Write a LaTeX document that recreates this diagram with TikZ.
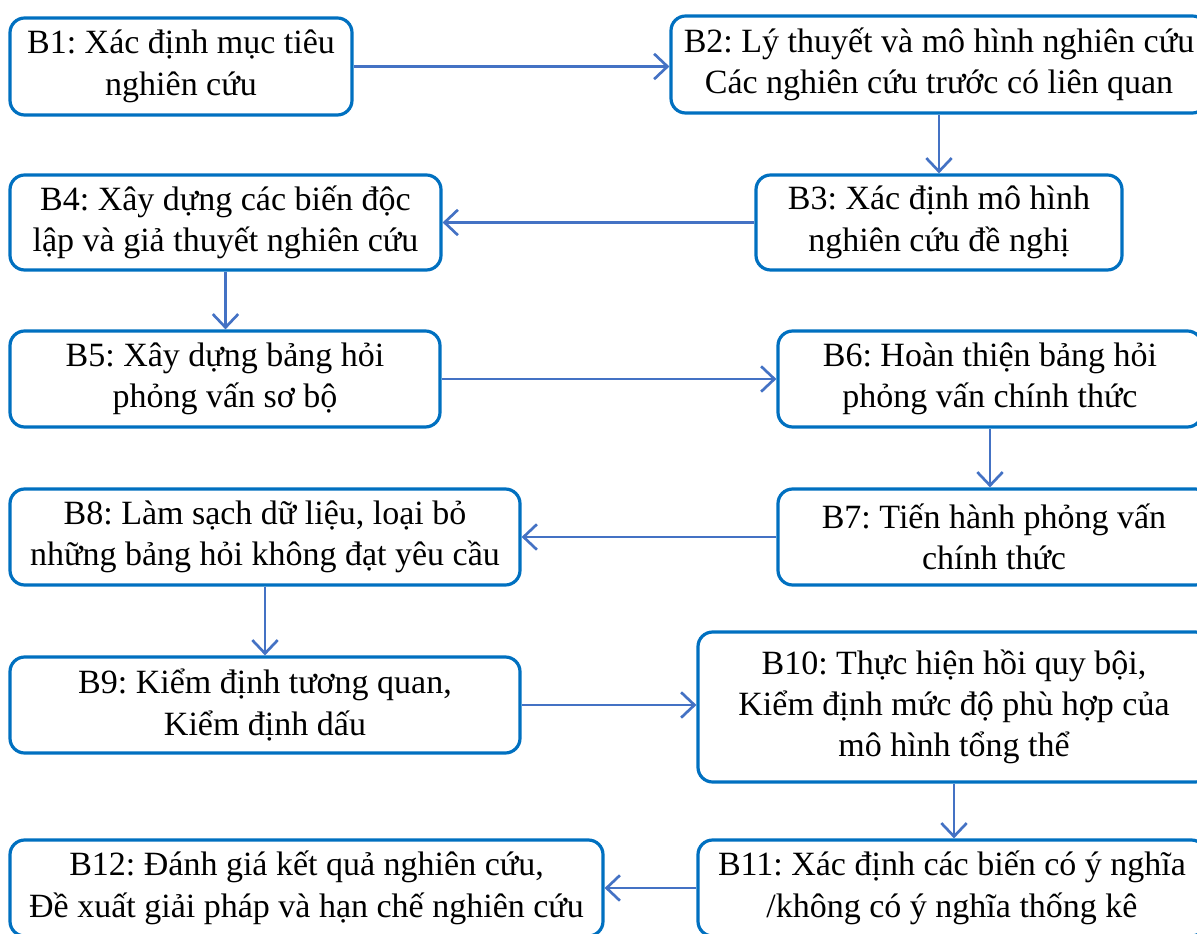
\documentclass[tikz,border=0pt]{standalone}
\usepackage{fontspec}
\setmainfont{Liberation Serif}
\usetikzlibrary{arrows.meta}
\definecolor{boxblue}{RGB}{0,112,192}
\definecolor{arrblue}{RGB}{68,114,196}
\tikzset{
  stepbox/.style={draw=boxblue, line width=2.4pt, rounded corners=11pt, align=center,
    inner sep=0pt, fill=white, font=\fontsize{25.5}{31}\selectfont\frenchspacing},
  flow/.style={draw=arrblue, line width=2.2pt, -{Straight Barb[length=10pt,width=19pt,line width=2pt]}}
}
\begin{document}
\begin{tikzpicture}[x=0.75pt,y=-0.75pt]
\useasboundingbox (0,0) rectangle (1197,934);
\node[stepbox, minimum width=256.5pt, minimum height=72.75pt] (B1) at (181,66.5) {B1: Xác định mục tiêu\\nghiên cứu};
\node[stepbox, minimum width=402pt, minimum height=72.75pt] (B2) at (939,64.5) {B2: Lý thuyết và mô hình nghiên cứu\\Các nghiên cứu trước có liên quan};
\node[stepbox, minimum width=274.5pt, minimum height=71.25pt] (B3) at (939,222.5) {B3: Xác định mô hình\\nghiên cứu đề nghị};
\node[stepbox, minimum width=323.25pt, minimum height=71.25pt] (B4) at (225.5,222.5) {B4: Xây dựng các biến độc\\lập và giả thuyết nghiên cứu};
\node[stepbox, minimum width=322.5pt, minimum height=72pt] (B5) at (225,379) {B5: Xây dựng bảng hỏi\\phỏng vấn sơ bộ};
\node[stepbox, minimum width=318pt, minimum height=72pt] (B6) at (990,379) {B6: Hoàn thiện bảng hỏi\\phỏng vấn chính thức};
\node[stepbox, minimum width=324pt, minimum height=72pt] (B7) at (994,537) {B7: Tiến hành phỏng vấn\\chính thức};
\node[stepbox, minimum width=382.5pt, minimum height=72pt] (B8) at (265,537) {B8: Làm sạch dữ liệu, loại bỏ\\những bảng hỏi không đạt yêu cầu};
\node[stepbox, minimum width=382.5pt, minimum height=72pt] (B9) at (265,705) {B9: Kiểm định tương quan,\\Kiểm định dấu};
\node[stepbox, minimum width=384pt, minimum height=112.5pt] (B10) at (954,707) {B10: Thực hiện hồi quy bội,\\Kiểm định mức độ phù hợp của\\mô hình tổng thể};
\node[stepbox, minimum width=381pt, minimum height=72pt] (B11) at (952,888) {B11: Xác định các biến có ý nghĩa\\/không có ý nghĩa thống kê};
\node[stepbox, minimum width=444.75pt, minimum height=72pt] (B12) at (306.5,888) {B12: Đánh giá kết quả nghiên cứu,\\Đề xuất giải pháp và hạn chế nghiên cứu};
\draw[flow] (B1.east) -- (B1.east -| B2.west);
\draw[flow] (B2.south -| B3.north) -- (B3.north);
\draw[flow] (B3.west) -- (B3.west -| B4.east);
\draw[flow] (B4.south) -- (B4.south |- B5.north);
\draw[flow] (B5.east) -- (B5.east -| B6.west);
\draw[flow] (B6.south) -- (B6.south |- B7.north);
\draw[flow] (B7.west) -- (B7.west -| B8.east);
\draw[flow] (B8.south) -- (B8.south |- B9.north);
\draw[flow] (B9.east) -- (B9.east -| B10.west);
\draw[flow] (B10.south) -- (B10.south |- B11.north);
\draw[flow] (B11.west) -- (B11.west -| B12.east);
\end{tikzpicture}
\end{document}
